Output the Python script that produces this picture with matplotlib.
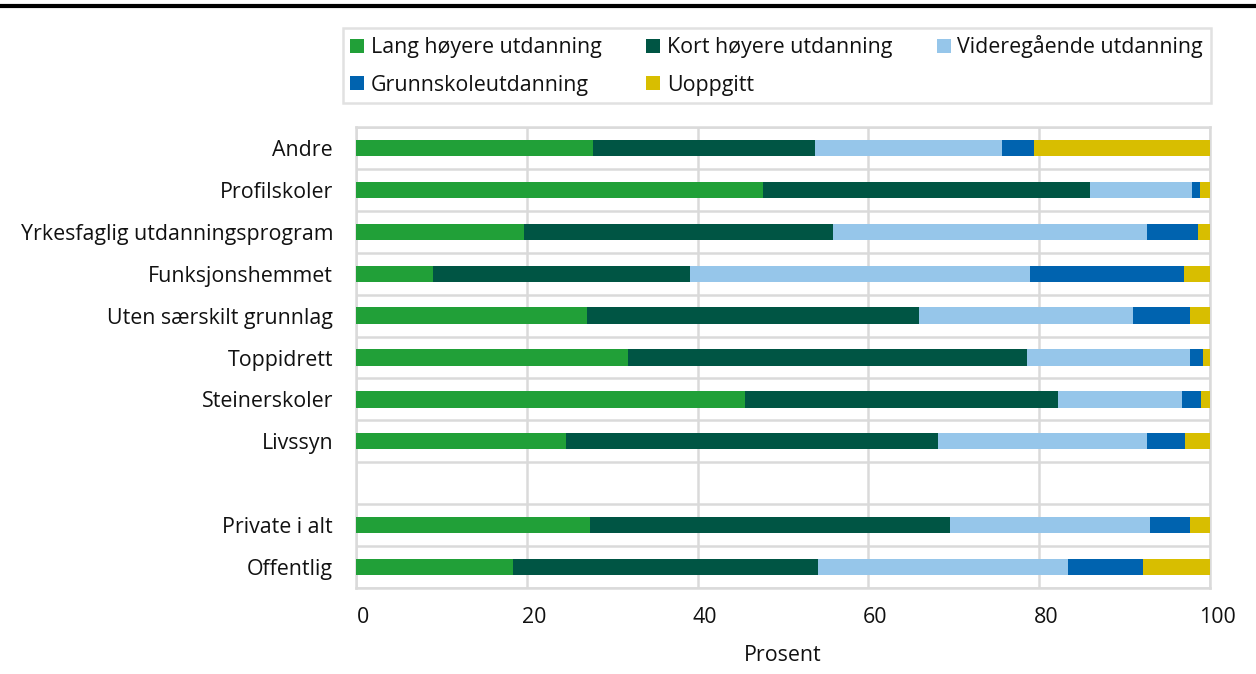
import matplotlib
matplotlib.use('Agg')
import matplotlib.pyplot as plt
import matplotlib.transforms as mtransforms
from matplotlib.lines import Line2D
import numpy as np

plt.rcParams['font.family'] = ['Open Sans', 'DejaVu Sans']

categories = ['Andre', 'Profilskoler', 'Yrkesfaglig utdanningsprogram', 'Funksjonshemmet',
              'Uten særskilt grunnlag', 'Toppidrett', 'Steinerskoler', 'Livssyn',
              '', 'Private i alt', 'Offentlig']

series_names = ['Lang høyere utdanning', 'Kort høyere utdanning', 'Videregående utdanning',
                'Grunnskoleutdanning', 'Uoppgitt']

# percent per category (empty row is the gap)
lang = [27.8, 47.6, 19.7, 9.0, 27.0, 31.8, 45.6, 24.6, 0, 27.4, 18.4]
kort = [26.0, 38.4, 36.2, 30.1, 38.9, 46.8, 36.6, 43.6, 0, 42.2, 35.7]
vgs = [21.8, 11.9, 36.7, 39.8, 25.1, 19.0, 14.5, 24.4, 0, 23.4, 29.3]
grunn = [3.8, 0.9, 6.0, 18.1, 6.7, 1.6, 2.3, 4.5, 0, 4.6, 8.7]
uoppgitt = [20.6, 1.2, 1.4, 3.0, 2.3, 0.8, 1.0, 2.9, 0, 2.4, 7.9]

colors = ['#21A038', '#005544', '#96C6EA', '#0063AF', '#D8BE00']
fs = 15.4
txt = '#111111'

fig = plt.figure(figsize=(12.56, 6.74), dpi=100)
ax = fig.add_axes([356 / 1256, 1 - 588 / 674, 854 / 1256, 461 / 674])

y = np.arange(len(categories))
left = np.zeros(len(categories))
handles = []
for name, vals, col in zip(series_names, [lang, kort, vgs, grunn, uoppgitt], colors):
    b = ax.barh(y, vals, left=left, height=0.39, color=col, label=name, zorder=3)
    handles.append(b)
    left += np.array(vals)

ax.set_xlim(0, 100)
ax.set_ylim(len(categories) - 0.5, -0.5)
ax.set_xticks([0, 20, 40, 60, 80, 100])
ax.set_yticks(y)
ax.set_yticklabels(categories)
ax.tick_params(axis='both', length=0, labelsize=fs, colors=txt)
ax.tick_params(axis='y', pad=16.5)
ax.tick_params(axis='x', pad=14)
for lab in ax.get_xticklabels():
    lab.set_transform(lab.get_transform() + mtransforms.ScaledTranslation(7 / 100, 0, fig.dpi_scale_trans))

# grid: vertical at ticks, horizontal at every slot boundary
ax.set_yticks(np.arange(-0.5, len(categories), 1), minor=True)
ax.tick_params(axis='y', which='minor', length=0)
ax.grid(axis='x', which='major', color='#DADADA', linewidth=1.8, zorder=0)
ax.grid(axis='y', which='minor', color='#DADADA', linewidth=1.8, zorder=0)
for s in ax.spines.values():
    s.set_color('#DADADA')
    s.set_linewidth(1.8)

ax.set_xlabel('Prosent', fontsize=fs, color=txt, labelpad=12)

# legend filled row by row like the original
order = [0, 3, 1, 4, 2]
leg = fig.legend([handles[i] for i in order], [series_names[i] for i in order],
                 loc='upper left', bbox_to_anchor=(343 / 1256, 1 - 28 / 674), borderaxespad=0,
                 ncol=3, fontsize=fs, frameon=True, fancybox=False, edgecolor='#DADADA',
                 handlelength=0.65, handleheight=0.65, handletextpad=0.3, columnspacing=2.1,
                 borderpad=0.35, labelspacing=0.75)
leg.get_frame().set_linewidth(1.8)
for t in leg.get_texts():
    t.set_color(txt)

fig.add_artist(Line2D([0, 1], [1 - 6 / 674, 1 - 6 / 674], transform=fig.transFigure, color='black', linewidth=3))

fig.savefig('out.png', dpi=100)
